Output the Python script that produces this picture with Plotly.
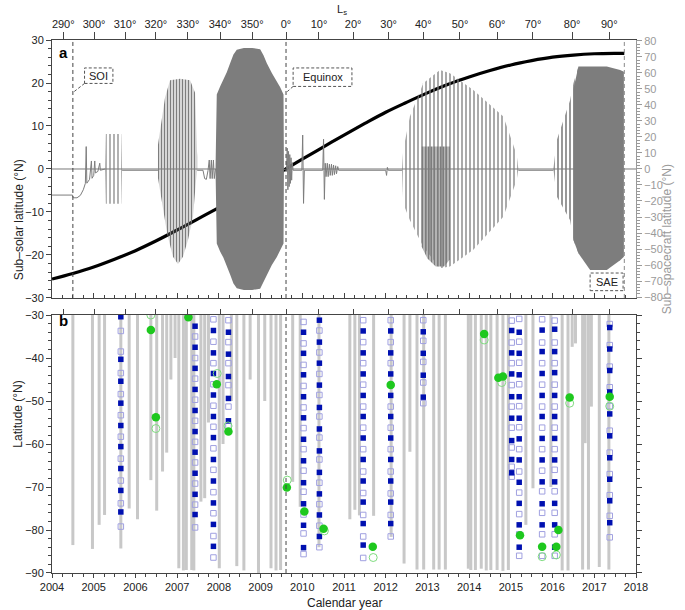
import plotly.graph_objects as go

# ---------------- data ----------------
year_ticks = list(range(2004, 2019))
ls_labels = ["290°", "300°", "310°", "320°", "330°", "340°", "350°", "0°", "10°",
             "20°", "30°", "40°", "50°", "60°", "70°", "80°", "90°"]
ls_years = [2004.27, 2005.01, 2005.75, 2006.49, 2007.26, 2008.03, 2008.80, 2009.61,
            2010.40, 2011.22, 2012.07, 2012.90, 2013.78, 2014.67, 2015.53, 2016.47, 2017.36]

# sub-solar latitude (left axis, deg N)
subsolar_year = [2004.0, 2004.5, 2005.0, 2005.5, 2006.0, 2006.5, 2007.0, 2007.5, 2008.0,
                 2008.5, 2009.0, 2009.5, 2010.0, 2010.5, 2011.0, 2011.5, 2012.0, 2012.5,
                 2013.0, 2013.5, 2014.0, 2014.5, 2015.0, 2015.5, 2016.0, 2016.5, 2017.0,
                 2017.5, 2017.72]
subsolar_lat = [-25.6, -24.3, -22.8, -21.0, -19.0, -16.7, -14.2, -11.6, -9.0, -6.3, -3.5,
                -0.6, 2.3, 5.1, 7.9, 10.6, 13.2, 15.5, 17.7, 19.7, 21.4, 22.9, 24.2, 25.2,
                26.0, 26.5, 26.8, 26.9, 26.9]

# sub-spacecraft latitude, individually traced segments (right axis, deg N)
sc_line_year = [2004.0, 2004.49, 2004.51, 2004.6, 2004.68, 2004.75, 2004.8, 2004.82, 2004.835,
                2004.9, 2004.945, 2004.96, 2005.0, 2005.025, 2005.04, 2005.1, 2005.145,
                2005.16, 2005.27, None,
                2005.68, 2006.54, None,
                2007.48, 2007.62, 2007.66, 2007.70, 2007.74, 2007.77, 2007.79, 2007.82,
                2007.84, 2007.87, 2007.89, 2007.92, None,
                2009.56, 2009.62, 2009.64, 2009.655, 2009.67, 2009.685, 2009.70, 2009.715,
                2009.73, 2009.745, 2009.76, 2009.78, 2009.99, 2010.01, 2010.03, 2010.05,
                2010.49, 2010.51, 2010.53, 2010.55, 2010.57, 2010.6, 2010.62, 2010.65,
                2010.67, 2010.7, 2010.72, 2010.75, 2010.77, 2010.8, 2010.82, 2010.85,
                2010.87, 2012.0, 2012.02, 2012.04, 2012.06, 2012.39, None,
                2015.18, 2016.02]
sc_line_lat = [-16.3, -16.3, -18.0, -18.0, -16.5, -13.0, -9.0, 14.0, -8.9,
               -6.5, 5.0, -5.8, -4.0, 5.0, -2.5, -1.5, 3.6,
               -0.8, 0.0, None,
               -0.8, -0.8, None,
               -0.8, -0.8, -6.0, -6.5, -1.0, 5.6, -6.0, 5.6,
               -6.0, 5.6, -6.0, 0.0, None,
               0.0, -0.8, 13.0, -13.0, 11.0, -11.0, 9.0, -9.0,
               7.0, -7.0, 4.0, -0.8, -0.8, 21.2, -21.5, -0.8,
               -0.8, 18.6, -19.0, 3.6, -4.8, 3.6, -4.8, 3.0,
               -4.0, 3.0, -4.0, 2.5, -3.5, 2.0, -3.0, 1.5,
               -0.8, -0.8, -4.0, 1.0, -0.8, -0.8, None,
               -0.8, -0.8]

# orbit phases: envelopes of sub-spacecraft latitude (right axis)
phaseA_year = [2005.27, 2005.29, 2005.66, 2005.68]
phaseA_up = [0.0, 21.8, 21.8, 0.0]
phaseA_lo = [0.0, -21.8, -21.8, 0.0]

phaseB_up_year = [2006.54, 2006.59, 2006.66, 2006.71, 2006.83, 2007.07, 2007.31, 2007.43, 2007.48]
phaseB_up = [15.0, 23.4, 35.0, 44.6, 55.4, 56.4, 55.4, 47.6, 8.0]
phaseB_lo_year = [2006.54, 2006.59, 2006.76, 2006.90, 2007.02, 2007.14, 2007.26, 2007.38, 2007.45, 2007.48]
phaseB_lo = [-5.4, -14.2, -40.3, -54.8, -59.4, -54.8, -44.3, -29.8, -8.0, 0.0]

phaseD_year = [2012.39, 2012.42, 2012.58, 2012.90, 2013.30, 2013.54, 2014.10, 2014.82, 2015.14, 2015.18]
phaseD_up = [0.0, 11.8, 32.8, 53.5, 61.8, 59.9, 49.4, 32.8, 8.9, 0.0]
phaseD_lo = [0.0, -21.5, -32.0, -48.6, -62.1, -61.0, -50.5, -29.8, -7.0, 0.0]

phaseE_year = [2016.02, 2016.10, 2016.42, 2016.50, 2016.62]
phaseE_up = [0.0, 18.0, 43.0, 53.5, 64.0]
phaseE_lo = [0.0, -17.2, -32.0, -44.3, -52.7]

phaseC_year = [2007.92, 2007.95, 2008.03, 2008.11, 2008.19, 2008.27, 2008.35, 2008.43, 2008.6,
               2008.8, 2008.99, 2009.07, 2009.15, 2009.27, 2009.39, 2009.47, 2009.55, 2009.56]
phaseC_up = [0.0, 46.5, 51.5, 55.5, 60.5, 66.0, 71.5, 74.5, 75.6, 75.6, 74.8, 71.0, 66.0,
             60.0, 55.0, 51.0, 46.5, 0.0]
phaseC_lo = [0.0, -46.5, -51.5, -55.5, -60.5, -66.0, -71.5, -74.5, -75.6, -75.6, -74.8, -71.0,
             -66.0, -60.0, -55.0, -51.0, -46.5, 0.0]

coreD_year = [2012.86, 2013.00, 2013.20, 2013.40, 2013.54]
coreD_up = [14.0, 14.0, 14.0, 14.0, 14.0]
coreD_lo = [-48.4, -56.0, -61.0, -61.0, -56.4]

coreE_year = [2016.50, 2016.62, 2016.90, 2017.30, 2017.62, 2017.71]
coreE_up = [50.0, 64.0, 64.0, 64.0, 61.8, 60.7]
coreE_lo = [-44.3, -52.7, -63.1, -63.1, -57.0, -54.8]

# panel b: grey coverage bars (year, southern-most latitude)
bar_year = [2004.50, 2004.97, 2005.13, 2005.26, 2005.65, 2005.85, 2006.05, 2006.37, 2006.51,
            2006.65, 2006.75, 2006.85, 2006.95, 2007.04, 2007.15, 2007.22, 2007.35, 2007.40,
            2007.57, 2007.66, 2007.75, 2008.01, 2008.10, 2008.30, 2008.43, 2008.60, 2008.75,
            2008.95, 2009.10, 2009.25, 2009.37, 2009.48, 2009.77, 2009.95, 2010.40, 2011.14,
            2011.26, 2011.37, 2011.71, 2012.13, 2012.44, 2012.58, 2012.75, 2012.91, 2013.15,
            2013.28, 2013.43, 2013.98, 2014.04, 2014.15, 2014.29, 2014.41, 2014.52, 2014.67,
            2014.81, 2014.94, 2015.36, 2015.53, 2015.96, 2016.23, 2016.37, 2016.47, 2016.55,
            2016.72, 2016.78, 2016.86, 2016.93, 2017.12, 2017.35]
bar_bottom = [-83.5, -84.4, -78.8, -76.5, -84.3, -75.0, -77.5, -68.4, -75.5,
              -66.4, -62.0, -45.0, -40.0, -88.9, -89.4, -89.3, -89.3, -89.4,
              -73.4, -72.6, -55.0, -88.9, -60.0, -50.0, -88.4, -89.4, -45.0,
              -90.0, -50.0, -88.9, -89.4, -89.3, -68.8, -74.6, -84.0, -77.5,
              -75.3, -76.6, -76.7, -81.6, -87.8, -61.8, -89.2, -89.2, -89.2,
              -89.2, -89.2, -89.0, -89.3, -89.3, -89.0, -89.4, -89.3, -89.3,
              -89.5, -89.3, -78.8, -70.3, -70.0, -89.4, -89.4, -37.4, -36.6,
              -89.2, -59.8, -89.2, -51.3, -88.6, -89.2]

# blue columns: filled and open squares (year, latitudes)
col_year = [2005.65, 2007.43, 2007.87, 2008.23, 2010.03, 2010.41, 2011.46, 2012.12,
            2012.90, 2015.02, 2015.20, 2015.75, 2016.05, 2017.37]
col_filled = [
    [-30.4, -40.3, -45.4, -50.5, -55.7, -60.6, -65.7, -70.8, -75.8],
    [-32.6, -37.5, -42.4, -47.3, -52.2, -57.1, -61.9, -66.8, -71.7, -76.4],
    [-33.6, -38.8, -43.6, -48.6, -53.6, -58.5, -63.6, -68.6, -73.7, -78.7, -83.8],
    [-34.0, -39.1, -44.3, -49.4, -54.6],
    [-34.0, -38.9, -43.9, -49.0, -53.9, -58.9, -63.9, -69.0, -73.9, -78.9, -84.1],
    [-31.2, -36.3, -41.2, -46.3, -51.5, -56.5, -61.6, -66.6, -71.6, -76.5, -81.5],
    [-33.7, -38.8, -43.7, -48.7, -53.6, -58.6, -63.6, -68.6, -73.5, -78.5, -83.5],
    [-33.7, -38.8, -43.7, -48.7, -53.6, -58.6, -63.6, -68.6, -73.5, -78.5],
    [-33.9, -38.9, -44.0, -49.1],
    [-33.6, -38.8, -43.7, -49.0, -54.0, -59.2, -63.6, -66.7],
    [-34.0, -38.9, -43.9, -49.0, -54.0, -58.8, -63.7, -68.9, -73.8, -78.8, -84.0],
    [-33.5, -38.5, -43.6, -48.7, -53.6, -58.7, -63.7, -68.8, -73.9, -78.8],
    [-33.3, -38.5, -43.4, -48.7, -53.6, -58.7, -63.7, -68.8, -73.8, -78.8, -84.0],
    [-32.9, -37.9, -42.9, -47.9, -53.0, -58.1, -63.2, -68.2, -73.2, -78.3],
]
col_open = [
    [-33.7, -38.5, -43.5, -48.4, -53.3, -58.3, -63.4, -68.5, -73.8, -79.2],
    [-35.0, -40.0, -44.8, -49.7, -54.6, -59.5, -64.3, -69.2, -74.1, -79.4],
    [-31.0, -36.2, -41.2, -46.1, -51.1, -56.0, -61.0, -66.0, -71.2, -76.1, -81.4, -86.4],
    [-31.2, -36.3, -41.2, -46.3, -51.3, -55.8],
    [-31.6, -36.6, -41.6, -46.5, -51.5, -56.3, -61.2, -66.2, -71.1, -76.4, -80.8, -85.6],
    [-33.6, -38.7, -43.7, -48.6, -53.6, -58.5, -63.6, -69.0, -74.0, -79.0, -84.0],
    [-31.2, -36.3, -41.2, -46.2, -51.3, -56.2, -61.2, -66.4, -71.4, -76.5, -81.5, -86.5],
    [-31.2, -36.3, -41.2, -46.2, -51.3, -56.2, -61.2, -66.4, -71.5, -76.5, -81.5],
    [-31.2, -36.0, -40.9, -45.7, -50.5],
    [-31.3, -36.4, -41.2, -46.3, -51.3, -56.2, -60.8, -65.3, -67.6],
    [-30.9, -36.2, -41.1, -46.1, -51.2, -56.1, -61.2, -66.4, -71.3, -76.3, -81.0, -86.0],
    [-31.0, -36.4, -41.2, -46.2, -51.3, -56.2, -61.2, -66.2, -71.0, -76.0, -81.0, -86.0],
    [-31.3, -36.4, -41.2, -46.2, -51.3, -56.2, -61.2, -66.0, -71.0, -76.0, -81.0, -86.0],
    [-32.1, -37.0, -42.0, -46.8, -51.2, -56.9, -62.0, -67.0, -71.9, -76.7, -81.7],
]

# green circles: filled and open
green_year = [2006.37, 2006.49, 2007.27, 2007.95, 2008.23, 2009.63, 2010.05, 2010.51, 2011.69,
              2012.12, 2014.36, 2014.70, 2014.81, 2015.22, 2015.75, 2016.09, 2016.14, 2016.41,
              2017.37]
green_lat = [-33.5, -53.8, -30.5, -46.1, -57.1, -70.1, -75.7, -79.7, -83.9,
             -46.3, -34.4, -44.6, -44.3, -81.2, -83.9, -83.9, -80.0, -49.2, -49.0]
green_open_year = [2006.37, 2006.49, 2007.96, 2008.22, 2009.64, 2010.53, 2011.70, 2014.36,
                   2014.78, 2015.75, 2016.09, 2016.41, 2017.37]
green_open_lat = [-30.0, -56.4, -43.6, -55.8, -68.4, -80.2, -86.4, -35.8,
                  -45.7, -86.2, -85.8, -50.5, -51.2]

# events
soi_year = 2004.5
equinox_year = 2009.61
end_year = 2017.72

# ---------------- figure ----------------
FONT = "Liberation Sans, Arial, sans-serif"
AX = "#444444"
GREY = "#7d7d7d"
fig = go.Figure()


def band(xu, yu, xl, yl, pattern=None):
    xs = list(xu) + list(xl)[::-1]
    ys = list(yu) + list(yl)[::-1]
    kw = dict(x=xs, y=ys, xaxis="x2", yaxis="y4", mode="lines", fill="toself",
              line=dict(width=0), hoverinfo="skip", showlegend=False)
    if pattern is None:
        kw["fillcolor"] = GREY
    else:
        size, solidity = pattern
        kw["fillcolor"] = "rgba(0,0,0,0)"
        kw["fillpattern"] = dict(shape="|", fgcolor=GREY, bgcolor="rgba(255,255,255,0)",
                                 fgopacity=1, size=size, solidity=solidity)
    fig.add_trace(go.Scatter(**kw))


band(phaseA_year, phaseA_up, phaseA_year, phaseA_lo, (4, 0.3))
band(phaseB_up_year, phaseB_up, phaseB_lo_year, phaseB_lo, (3, 0.55))
band(phaseC_year, phaseC_up, phaseC_year, phaseC_lo)
band(phaseD_year, phaseD_up, phaseD_year, phaseD_lo, (4, 0.33))
band(coreD_year, coreD_up, coreD_year, coreD_lo, (3, 0.72))
band(phaseE_year, phaseE_up, phaseE_year, phaseE_lo, (4, 0.4))
band(coreE_year, coreE_up, coreE_year, coreE_lo)

fig.add_trace(go.Scatter(x=sc_line_year, y=sc_line_lat, xaxis="x2", yaxis="y4", mode="lines",
                         line=dict(color=GREY, width=1), hoverinfo="skip", showlegend=False))

# zero line of panel a
fig.add_trace(go.Scatter(x=[2004, 2018], y=[0, 0], xaxis="x2", yaxis="y3", mode="lines",
                         line=dict(color="#555555", width=0.8), hoverinfo="skip", showlegend=False))

fig.add_trace(go.Scatter(x=subsolar_year, y=subsolar_lat, xaxis="x2", yaxis="y3", mode="lines",
                         line=dict(color="black", width=3.2, shape="spline"),
                         hoverinfo="skip", showlegend=False))

# invisible anchors so the Ls axes are drawn
fig.add_trace(go.Scatter(x=[2004], y=[0], xaxis="x3", yaxis="y3", mode="markers",
                         marker=dict(opacity=0), hoverinfo="skip", showlegend=False))
fig.add_trace(go.Scatter(x=[2004], y=[-60], xaxis="x4", yaxis="y", mode="markers",
                         marker=dict(opacity=0), hoverinfo="skip", showlegend=False))

# panel b
fig.add_trace(go.Bar(x=bar_year, y=[b + 30 for b in bar_bottom], base=-30, width=0.072,
                     marker=dict(color="#c8c8c8", line=dict(width=0)),
                     xaxis="x", yaxis="y", hoverinfo="skip", showlegend=False))

fx, fy, ox, oy = [], [], [], []
for yr, fl, op in zip(col_year, col_filled, col_open):
    fx += [yr] * len(fl)
    fy += fl
    ox += [yr] * len(op)
    oy += op
fig.add_trace(go.Scatter(x=ox, y=oy, mode="markers", xaxis="x", yaxis="y",
                         marker=dict(symbol="square-open", size=5.5, color="#a0a0e0",
                                     line=dict(width=1)),
                         hoverinfo="skip", showlegend=False))
fig.add_trace(go.Scatter(x=fx, y=fy, mode="markers", xaxis="x", yaxis="y",
                         marker=dict(symbol="square", size=5.5, color="#0010b0"),
                         hoverinfo="skip", showlegend=False))
fig.add_trace(go.Scatter(x=green_open_year, y=green_open_lat, mode="markers", xaxis="x", yaxis="y",
                         marker=dict(symbol="circle-open", size=8, color="#7fdc7f",
                                     line=dict(width=1)),
                         hoverinfo="skip", showlegend=False))
fig.add_trace(go.Scatter(x=green_year, y=green_lat, mode="markers", xaxis="x", yaxis="y",
                         marker=dict(symbol="circle", size=8.5, color="#1ec81e"),
                         hoverinfo="skip", showlegend=False))

# ---------------- shapes ----------------
shapes = []
dash = dict(color="#444444", width=1, dash="4px,3px")
shapes.append(dict(type="line", xref="x2", yref="y3", x0=soi_year, x1=soi_year, y0=-30, y1=30,
                   line=dash, layer="above"))
shapes.append(dict(type="line", xref="x2", yref="y3", x0=equinox_year, x1=equinox_year,
                   y0=-30, y1=30, line=dash, layer="above"))
shapes.append(dict(type="line", xref="x", yref="y", x0=equinox_year, x1=equinox_year,
                   y0=-90, y1=-30, line=dash, layer="above"))
shapes.append(dict(type="line", xref="x2", yref="y3", x0=end_year, x1=end_year, y0=-30, y1=30,
                   line=dict(color="#8a8a8a", width=1, dash="4px,3px"), layer="above"))
boxline = dict(color="#555555", width=1, dash="3px,2px")
shapes.append(dict(type="rect", xref="x2", yref="y3", x0=2004.78, x1=2005.46, y0=19.9, y1=23.5,
                   line=boxline, fillcolor="white", layer="above"))
shapes.append(dict(type="line", xref="x2", yref="y3", x0=2004.78, x1=2004.53, y0=19.9, y1=18.0,
                   line=boxline, layer="above"))
shapes.append(dict(type="rect", xref="x2", yref="y3", x0=2009.78, x1=2011.19, y0=19.2, y1=23.5,
                   line=boxline, fillcolor="white", layer="above"))
shapes.append(dict(type="line", xref="x2", yref="y3", x0=2009.78, x1=2009.64, y0=19.2, y1=18.0,
                   line=boxline, layer="above"))
shapes.append(dict(type="rect", xref="x2", yref="y3", x0=2016.9, x1=2017.69, y0=-28.3, y1=-24.2,
                   line=boxline, fillcolor="white", layer="above"))

annotations = [
    dict(text="SOI", x=2005.12, y=21.7, xref="x2", yref="y3", showarrow=False,
         font=dict(size=11, color="#222")),
    dict(text="Equinox", x=2010.485, y=21.35, xref="x2", yref="y3", showarrow=False,
         font=dict(size=11, color="#222")),
    dict(text="SAE", x=2017.295, y=-26.25, xref="x2", yref="y3", showarrow=False,
         font=dict(size=11, color="#222")),
    dict(text="<b>a</b>", x=0.008, y=0.977, xref="paper", yref="paper", xanchor="left",
         yanchor="middle", showarrow=False, font=dict(size=15, color="black")),
    dict(text="<b>b</b>", x=0.008, y=0.473, xref="paper", yref="paper", xanchor="left",
         yanchor="middle", showarrow=False, font=dict(size=15, color="black")),
    dict(text="L<sub>s</sub>", x=0.497, y=1.074, xref="paper", yref="paper", showarrow=False,
         yanchor="top", font=dict(size=11, color="#222")),
    dict(text="Sub–solar latitude (°N)", x=-0.073, y=0.78, xref="paper", yref="paper",
         textangle=-90, showarrow=False, font=dict(size=12, color="#222")),
    dict(text="Latitude (°N)", x=-0.073, y=0.232, xref="paper", yref="paper",
         textangle=-90, showarrow=False, font=dict(size=12, color="#222")),
    dict(text="Sub–spacecraft latitude (°N)", x=1.068, y=0.77, xref="paper", yref="paper",
         textangle=-90, showarrow=False, font=dict(size=12, color="#9a9a9a")),
    dict(text="Calendar year", x=0.5, y=-0.057, xref="paper", yref="paper",
         yanchor="middle", showarrow=False, font=dict(size=12, color="#222")),
]

tickfont = dict(size=11, color="#222", family=FONT)
common_x = dict(range=[2004, 2018], showgrid=False, zeroline=False, showline=True,
                linecolor=AX, linewidth=1, tickcolor=AX)
common_y = dict(showgrid=False, zeroline=False, showline=True, linecolor=AX, linewidth=1,
                tickcolor=AX, tickfont=tickfont)

fig.update_layout(
    width=685, height=610,
    margin=dict(l=52, r=49, t=40, b=37),
    paper_bgcolor="white", plot_bgcolor="white",
    font=dict(family=FONT, size=11, color="#222"),
    barmode="overlay",
    shapes=shapes, annotations=annotations,
    xaxis=dict(**common_x, anchor="y", domain=[0, 1], tickmode="array", tickvals=year_ticks,
               ticks="outside", ticklen=4, tickfont=tickfont,
               minor=dict(ticks="outside", ticklen=3, dtick=0.25, tick0=2004, tickcolor=AX)),
    xaxis4=dict(**common_x, anchor="y", overlaying="x", side="top", tickmode="array",
                tickvals=ls_years, showticklabels=False, ticks="outside", ticklen=5),
    yaxis=dict(**common_y, domain=[0, 0.484], range=[-90, -30], dtick=10, tick0=-90,
               ticks="outside", ticklen=5, mirror="ticks",
               minor=dict(ticks="outside", ticklen=3, dtick=2, tickcolor=AX)),
    xaxis2=dict(**common_x, anchor="y3", domain=[0, 1], matches="x", showticklabels=False,
                tickmode="array", tickvals=year_ticks, ticks="inside", ticklen=5,
                minor=dict(ticks="inside", ticklen=3, dtick=0.25, tick0=2004, tickcolor=AX)),
    xaxis3=dict(**common_x, anchor="y3", overlaying="x2", side="top", tickmode="array",
                tickvals=ls_years, ticktext=ls_labels, ticks="outside", ticklen=7,
                tickfont=tickfont),
    yaxis3=dict(**common_y, domain=[0.516, 1], range=[-30, 30], dtick=10, tick0=-30,
                ticks="outside", ticklen=5, anchor="x2",
                minor=dict(ticks="outside", ticklen=3, dtick=2, tickcolor=AX)),
    yaxis4=dict(showgrid=False, zeroline=False, showline=True, linecolor="#9a9a9a",
                overlaying="y3", side="right", anchor="x2", range=[-80.6, 80.6], dtick=10,
                tick0=-80, ticks="outside", ticklen=5, tickcolor="#9a9a9a",
                tickfont=dict(size=11, color="#9a9a9a", family=FONT),
                minor=dict(ticks="outside", ticklen=3, dtick=2, tickcolor="#9a9a9a")),
)

fig.write_html("out.html", config={"displayModeBar": False},
               post_script="document.body.style.margin='0';document.body.style.overflow='hidden';")
